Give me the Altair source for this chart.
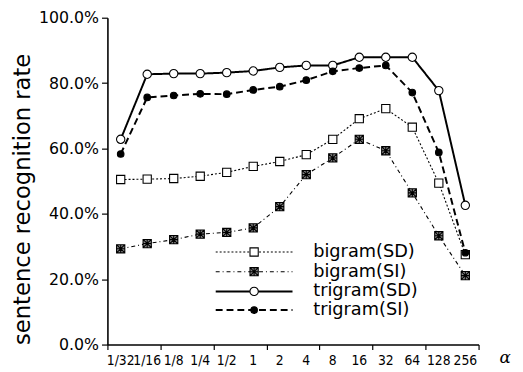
import altair as alt
import pandas as pd

labels = ["1/32", "1/16", "1/8", "1/4", "1/2", "1", "2", "4", "8", "16", "32", "64", "128", "256"]
series_names = ["bigram(SD)", "bigram(SI)", "trigram(SD)", "trigram(SI)"]
bigram_sd = [50.5, 50.6, 50.8, 51.5, 52.7, 54.5, 56.0, 58.1, 62.8, 69.1, 72.2, 66.5, 49.4, 27.5]
bigram_si = [29.3, 30.9, 32.1, 33.8, 34.3, 35.7, 42.2, 52.0, 57.1, 62.8, 59.3, 46.4, 33.3, 21.1]
trigram_sd = [62.8, 82.7, 82.9, 82.9, 83.2, 83.7, 84.8, 85.4, 85.4, 87.9, 87.9, 87.9, 77.7, 42.6]
trigram_si = [58.3, 75.6, 76.2, 76.7, 76.6, 77.9, 78.9, 80.9, 83.6, 84.6, 85.4, 77.1, 58.8, 28.1]
y_ticks = [0, 10, 20, 30, 40, 50, 60, 70, 80, 90, 100]
x_ticks = [i / 2 for i in range(-1, 28)]

values = [bigram_sd, bigram_si, trigram_sd, trigram_si]
FONT = "DejaVu Sans"
W, H = 377, 332

styles = {
    "bigram(SD)": dict(dash=[2, 2], width=1.1, shape="square", fill="white", size=70),
    "bigram(SI)": dict(dash=[4, 3, 1, 3], width=1.1,
                       shape="M-1,-1H1V1H-1Z M-1,-1L1,1 M1,-1L-1,1 M0,-1V1 M-1,0H1",
                       fill="#8a8a8a", size=70),
    "trigram(SD)": dict(dash=[1, 0], width=2.0, shape="circle", fill="white", size=72),
    "trigram(SI)": dict(dash=[7, 4], width=2.0, shape="circle", fill="black", size=45),
}
legend_y = [238, 258, 278, 297]

x_scale = alt.Scale(domain=[-0.5, 13.5], nice=False, zero=False)
x_enc = alt.X("idx:Q", scale=x_scale,
              axis=alt.Axis(values=x_ticks, title=None, grid=False, labels=False,
                            tickSize=5, tickColor="black", tickWidth=1.2,
                            domainColor="black", domainWidth=1.6))
y_enc = alt.Y("val:Q", scale=alt.Scale(domain=[0, 100], nice=False),
              axis=alt.Axis(values=y_ticks, title="sentence recognition rate", grid=False,
                            labelExpr="datum.value % 20 == 0 ? format(datum.value/100, '.1%') : ''",
                            labelFont=FONT, labelFontSize=16, labelColor="black",
                            labelPadding=3, tickSize=6, tickColor="black", tickWidth=1.2,
                            domainColor="black", domainWidth=1.6,
                            titleFont=FONT, titleFontSize=23, titleFontWeight="normal",
                            titleColor="black", titleX=-86, titleY=184, titleAngle=270,
                            titleBaseline="middle", titleAlign="center", labelOverlap=False))

layers = []
for k, name in enumerate(series_names):
    st = styles[name]
    df = pd.DataFrame({"idx": list(range(len(labels))), "val": values[k], "series": name})
    base = alt.Chart(df)
    layers.append(base.mark_line(color="black", strokeWidth=st["width"], strokeDash=st["dash"])
                  .encode(x=x_enc, y=y_enc))
    layers.append(base.mark_point(shape=st["shape"], filled=False, fill=st["fill"], fillOpacity=1,
                                  stroke="black", strokeWidth=1.1, size=st["size"], opacity=1)
                  .encode(x="idx:Q", y="val:Q"))
    ldf = pd.DataFrame({"series": [name]})
    lb = alt.Chart(ldf)
    layers.append(lb.mark_rule(color="black", strokeWidth=st["width"], strokeDash=st["dash"])
                  .encode(x=alt.value(110), x2=alt.value(188), y=alt.value(legend_y[k])))
    layers.append(lb.mark_point(shape=st["shape"], filled=False, fill=st["fill"], fillOpacity=1,
                                stroke="black", strokeWidth=1.1, size=st["size"], opacity=1)
                  .encode(x=alt.value(149), y=alt.value(legend_y[k])))
    layers.append(lb.mark_text(align="left", baseline="middle", font=FONT, fontSize=18, color="black")
                  .encode(x=alt.value(209), y=alt.value(legend_y[k]), text="series:N"))

# x tick labels as a text layer positioned by the x scale
lab_df = pd.DataFrame({"idx": list(range(len(labels))), "lab": labels})
layers.append(alt.Chart(lab_df).mark_text(
    align="center", baseline="middle", font="DejaVu Sans Condensed", fontSize=14, color="black"
).encode(x=alt.X("idx:Q", scale=x_scale), y=alt.value(H + 17), text="lab:N"))

alpha = alt.Chart(pd.DataFrame({"t": ["α"]})).mark_text(
    align="center", baseline="middle", font="DejaVu Serif", fontSize=17, fontStyle="italic", color="black"
).encode(x=alt.value(404), y=alt.value(H + 14), text="t:N")
layers.append(alpha)

chart = alt.layer(*layers).properties(
    width=W, height=H,
    autosize=alt.AutoSizeParams(type="none"),
    padding={"left": 101, "top": 7, "right": 37, "bottom": 25},
    background="white",
).configure_view(strokeWidth=0)

chart.save("out.html", embed_options={"renderer": "svg", "actions": False})
